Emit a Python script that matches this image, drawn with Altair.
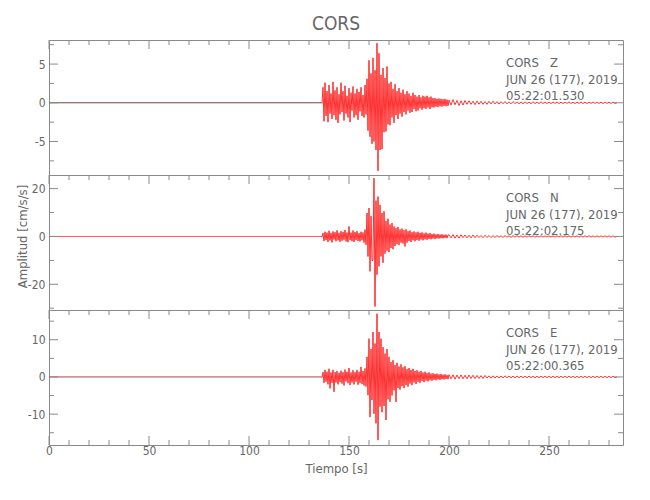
import altair as alt
import pandas as pd

# ---------------- data ----------------
STATION = "CORS"
COMPONENTS = ["Z", "N", "E"]
DATE_LABEL = "JUN 26 (177), 2019"
START_TIMES = ["05:22:01.530", "05:22:02.175", "05:22:00.365"]

PRE_T = [0.0, 136.0]
ACTIVE_T0, ACTIVE_DT = 136.0, 0.5
CODA_T0, CODA_DT = 200.0, 1.0

Z_PRE = [0.0, 0.0]
Z_ACTIVE = [
    0.05, -0.08, 2.0, -2.4, 2.6, -1.7, 1.5, -2.5, 2.3, -1.4,
    1.2, -2.1, 2.7, -1.6, 1.6, -2.2, 2.0, -2.6, 1.1, -1.5,
    2.6, -1.2, 1.5, -2.3, 2.2, -1.4, 0.9, -1.9, 1.9, -2.5,
    1.3, -1.0, 2.1, -1.9, 1.2, -1.6, 1.8, -2.2, 1.4, -1.1,
    2.0, -1.7, 1.0, -1.9, 2.3, -1.5, 3.1, -3.6, 5.5, -4.4,
    3.8, -5.3, 5.8, -5.0, 4.2, -6.1, 7.7, -8.8, 6.4, -6.1,
    3.6, -6.0, 4.5, -3.8, 3.2, -3.7, 4.7, -2.8, 2.5, -2.9,
    2.7, -1.9, 1.8, -2.6, 2.4, -1.6, 1.5, -2.1, 1.9, -1.4,
    1.3, -1.8, 1.7, -1.2, 1.1, -1.5, 1.5, -1.0, 1.2, -1.3,
    0.9, -1.2, 1.3, -0.8, 1.0, -1.1, 0.8, -1.0, 1.0, -0.7,
    0.7, -0.9, 0.9, -0.7, 0.8, -0.8, 0.9, -0.6, 0.7, -0.8,
    0.8, -0.6, 0.6, -0.6, 0.6, -0.5, 0.5, -0.55, 0.55, -0.45,
    0.5, -0.5, 0.45, -0.4, 0.5, -0.45, 0.4, -0.4,
]
Z_CODA = [
    0.35, -0.3, 0.4, -0.25, 0.3, -0.35, 0.25, -0.3, 0.3, -0.2,
    0.25, -0.2, 0.2, -0.25, 0.22, -0.18, 0.2, -0.2, 0.15, -0.2,
    0.18, -0.15, 0.2, -0.15, 0.15, -0.18, 0.14, -0.12, 0.16, -0.14,
    0.12, -0.14, 0.15, -0.1, 0.12, -0.12, 0.1, -0.13, 0.12, -0.1,
    0.1, -0.12, 0.13, -0.1, 0.1, -0.11, 0.12, -0.09, 0.1, -0.1,
    0.09, -0.1, 0.11, -0.08, 0.1, -0.1, 0.08, -0.1, 0.1, -0.08,
    0.1, -0.09, 0.08, -0.1, 0.09, -0.08, 0.1, -0.09, 0.08, -0.1,
    0.09, -0.08, 0.1, -0.08, 0.09, -0.09, 0.08, -0.1, 0.09, -0.08,
    0.08, -0.09, 0.1, -0.08, 0.0,
]

N_PRE = [0.0, 0.0]
N_ACTIVE = [
    0.1, -0.2, 1.4, -1.9, 2.0, -1.5, 1.6, -2.3, 2.4, -1.7,
    1.5, -2.5, 2.1, -1.3, 1.8, -2.0, 2.6, -1.6, 1.5, -2.2,
    2.2, -1.8, 1.9, -1.4, 2.7, -2.1, 1.7, -2.4, 4.2, -1.5,
    1.6, -2.0, 2.5, -2.3, 1.9, -1.5, 2.2, -1.9, 1.4, -2.1,
    2.0, -1.6, 1.7, -2.6, 2.9, -3.5, 9.8, -8.4, 11.9, -14.6,
    8.5, -10.2, -9.8, 24.4, -29.3, 15.0, -16.0, 16.7, -12.5, 13.2,
    -8.4, 9.8, -11.0, 10.5, -7.2, 6.5, -6.0, 7.4, -6.5, 5.0,
    -4.8, 5.6, -5.3, 4.2, -4.0, 3.5, -3.2, 4.0, -3.6, 2.9,
    -2.6, 3.3, -3.0, 2.6, -4.2, 3.0, -2.6, 2.2, -1.9, 2.5,
    -2.3, 1.8, -1.6, 2.1, -2.0, 1.7, -1.5, 2.0, -1.8, 1.5,
    -1.3, 1.7, -1.6, 1.3, -1.2, 1.6, -1.4, 1.2, -1.0, 1.4,
    -1.2, 1.0, -0.9, 1.2, -1.1, 0.9, -0.8, 1.0, -0.9, 0.8,
    -0.7, 0.9, -0.8, 0.7, -0.6, 0.8, -0.7, 0.6,
]
N_CODA = [
    0.7, -0.6, 0.8, -0.7, 0.6, -0.7, 0.7, -0.5, 0.6, -0.6,
    0.5, -0.6, 0.6, -0.5, 0.5, -0.45, 0.4, -0.5, 0.45, -0.4,
    0.4, -0.45, 0.35, -0.4, 0.4, -0.35, 0.3, -0.4, 0.35, -0.3,
    0.3, -0.35, 0.3, -0.3, 0.35, -0.28, 0.3, -0.3, 0.25, -0.3,
    0.3, -0.25, 0.28, -0.3, 0.25, -0.28, 0.3, -0.25, 0.25, -0.28,
    0.28, -0.25, 0.25, -0.3, 0.28, -0.25, 0.25, -0.25, 0.3, -0.25,
    0.25, -0.28, 0.28, -0.25, 0.25, -0.25, 0.3, -0.28, 0.25, -0.25,
    0.28, -0.25, 0.25, -0.28, 0.25, -0.25, 0.28, -0.25, 0.25, -0.25,
    0.25, -0.28, 0.25, -0.25, 0.0,
]

E_PRE = [0.0, 0.0]
E_ACTIVE = [
    0.1, -0.15, 1.3, -1.6, 1.9, -1.3, 1.4, -2.0, 2.2, -3.1,
    1.2, -1.6, 1.9, -4.0, 1.3, -1.5, 1.6, -2.0, 1.1, -1.4,
    1.7, -1.8, 1.3, -2.3, 2.0, -1.2, 1.4, -1.7, 2.4, -2.2,
    1.2, -1.5, 1.8, -2.0, 1.3, -1.3, 1.9, -2.1, 1.4, -1.6,
    2.7, -1.9, 1.6, -2.3, 2.3, -2.6, 5.4, -4.9, 10.3, -10.8,
    7.5, -6.2, 12.1, -9.9, 9.0, -12.5, 17.0, -17.0, 12.1, -8.0,
    10.3, -9.5, 8.0, -7.8, 6.3, -11.6, 7.5, -6.0, 5.4, -6.7,
    4.0, -5.0, 4.5, -3.6, 3.2, -6.7, 3.8, -3.0, 2.8, -3.4,
    3.4, -2.5, 2.6, -3.0, 2.9, -2.2, 2.1, -2.6, 2.4, -1.8,
    1.9, -2.2, 2.2, -1.5, 1.6, -1.9, 1.8, -1.3, 1.4, -1.6,
    1.6, -1.1, 1.2, -1.4, 1.4, -1.0, 1.1, -1.2, 1.2, -0.9,
    0.9, -1.0, 1.0, -0.8, 0.8, -0.9, 0.9, -0.7, 0.7, -0.8,
    0.8, -0.6, 0.6, -0.7, 0.7, -0.5, 0.5, -0.6,
]
E_CODA = [
    0.6, -0.5, 0.55, -0.6, 0.5, -0.45, 0.55, -0.5, 0.45, -0.5,
    0.5, -0.4, 0.45, -0.45, 0.4, -0.4, 0.35, -0.4, 0.4, -0.3,
    0.3, -0.35, 0.3, -0.3, 0.28, -0.3, 0.25, -0.28, 0.3, -0.25,
    0.25, -0.25, 0.22, -0.25, 0.25, -0.2, 0.22, -0.22, 0.2, -0.22,
    0.22, -0.2, 0.2, -0.22, 0.2, -0.2, 0.22, -0.18, 0.2, -0.2,
    0.18, -0.2, 0.2, -0.18, 0.18, -0.2, 0.2, -0.18, 0.18, -0.18,
    0.2, -0.18, 0.18, -0.2, 0.18, -0.18, 0.2, -0.18, 0.18, -0.18,
    0.18, -0.2, 0.18, -0.18, 0.2, -0.18, 0.18, -0.18, 0.18, -0.2,
    0.18, -0.18, 0.18, -0.18, 0.0,
]

TRACES = {
    "Z": (Z_PRE, Z_ACTIVE, Z_CODA),
    "N": (N_PRE, N_ACTIVE, N_CODA),
    "E": (E_PRE, E_ACTIVE, E_CODA),
}

X_DOMAIN = [0, 287]
X_LABELS = [0, 50, 100, 150, 200, 250]
X_MINOR = [10, 20, 30, 40, 60, 70, 80, 90, 110, 120, 130, 140, 160, 170,
           180, 190, 210, 220, 230, 240, 260, 270, 280]
Y_DOMAINS = {"Z": [-9.33, 8.11], "N": [-30.75, 25.7], "E": [-18.3, 18.0]}
Y_LABELS = {"Z": [-5, 0, 5], "N": [-20, 0, 20], "E": [-10, 0, 10]}
Y_MINOR = {"Z": [-7.5, -2.5, 2.5, 7.5], "N": [-30, -10, 10], "E": [-15, -5, 5, 15]}

# ---------------- style ----------------
FONT = "Liberation Sans Narrow, DejaVu Sans Condensed, sans-serif"
TEXT = "#666666"
FRAME = "#8a8a8a"
RED = "#ff0000"
PRE_COLOR = {"Z": "#5a1010", "N": "#ff3030", "E": "#9a1515"}
W, H = 574, 135
MAJ, MIN = 9, 5
HYPHEN_LABEL = "datum.value < 0 ? '-' + abs(datum.value) : '' + datum.value"


def trace_frame(comp):
    pre, active, coda = TRACES[comp]
    t = [ACTIVE_T0 + ACTIVE_DT * i for i in range(len(active))] \
        + [CODA_T0 + CODA_DT * i for i in range(len(coda))]
    a = list(active) + list(coda)
    return pd.DataFrame({"t": t, "a": a})


def panel(idx, comp):
    bottom = idx == len(COMPONENTS) - 1
    xs = alt.Scale(domain=X_DOMAIN, nice=False, zero=False)
    ys = alt.Scale(domain=Y_DOMAINS[comp], nice=False, zero=False)

    if bottom:
        xaxis = alt.Axis(values=X_LABELS, ticks=False, domain=False, grid=False,
                         labelPadding=0, title="Tiempo [s]", titlePadding=6,
                         labelFlush=False)
    else:
        xaxis = None
    if comp == "N":
        yaxis = alt.Axis(values=Y_LABELS[comp], ticks=False, domain=False, grid=False,
                         labelPadding=4, labelExpr=HYPHEN_LABEL,
                         title="Amplitud [cm/s/s]",
                         titleX=-27, titleY=61, titleAngle=270,
                         titleAlign="center", titleBaseline="middle")
    else:
        yaxis = alt.Axis(values=Y_LABELS[comp], ticks=False, domain=False, grid=False,
                         labelPadding=4, labelExpr=HYPHEN_LABEL, title=None)

    pre_df = pd.DataFrame({"t": PRE_T, "a": TRACES[comp][0]})
    pre_line = alt.Chart(pre_df).mark_line(
        color=PRE_COLOR[comp], strokeWidth=0.8, clip=True
    ).encode(
        x=alt.X("t:Q", scale=xs, axis=xaxis),
        y=alt.Y("a:Q", scale=ys, axis=yaxis),
    )

    line = alt.Chart(trace_frame(comp)).mark_line(
        color=RED, strokeWidth=0.8, clip=True
    ).encode(
        x=alt.X("t:Q", scale=xs, axis=xaxis),
        y=alt.Y("a:Q", scale=ys, axis=yaxis),
        order="t:Q",
    )

    xmaj = pd.DataFrame({"t": X_LABELS})
    xmin = pd.DataFrame({"t": X_MINOR})
    ymaj = pd.DataFrame({"a": Y_LABELS[comp]})
    ymin = pd.DataFrame({"a": Y_MINOR[comp]})

    def xt(df, y0, y1):
        return alt.Chart(df).mark_rule(color=FRAME, strokeWidth=1).encode(
            x=alt.X("t:Q", scale=xs, axis=xaxis), y=alt.value(y0), y2=alt.value(y1))

    def yt(df, x0, x1):
        return alt.Chart(df).mark_rule(color=FRAME, strokeWidth=1).encode(
            y=alt.Y("a:Q", scale=ys, axis=yaxis), x=alt.value(x0), x2=alt.value(x1))

    layers = [
        xt(xmaj, 0, MAJ), xt(xmin, 0, MIN),
        yt(ymaj, 0, MAJ), yt(ymin, 0, MIN),
        yt(ymaj, W, W - MAJ), yt(ymin, W, W - MIN),
    ]
    if bottom:
        layers += [xt(xmaj, H, H - MAJ), xt(xmin, H, H - MIN)]

    label = alt.Chart(pd.DataFrame({
        "txt": [STATION + "\u00a0\u00a0\u00a0" + comp + "\n" + DATE_LABEL + "\n" + START_TIMES[idx]]
    })).mark_text(
        align="left", baseline="middle", lineBreak="\n", lineHeight=16.5,
        fontSize=13, font=FONT, color=TEXT
    ).encode(x=alt.value(457), y=alt.value(23), text="txt:N")

    ch = alt.layer(line, pre_line, *layers, label).properties(width=W, height=H)
    if idx == 0:
        ch = ch.properties(title=alt.Title(STATION, fontSize=19, fontWeight="normal",
                                           color=TEXT, font=FONT, offset=6,
                                           anchor="middle"))
    return ch


chart = alt.vconcat(*[panel(i, c) for i, c in enumerate(COMPONENTS)],
                    spacing=0, bounds="flush").configure_view(
    stroke=FRAME, strokeWidth=1
).configure_axis(
    labelFont=FONT, labelFontSize=12, labelColor=TEXT,
    titleFont=FONT, titleFontSize=13, titleColor=TEXT, titleFontWeight="normal",
).properties(
    padding={"left": 7, "top": 6, "right": 10, "bottom": 10}
)

chart.save("out.html", embed_options={"renderer": "svg", "actions": False})
